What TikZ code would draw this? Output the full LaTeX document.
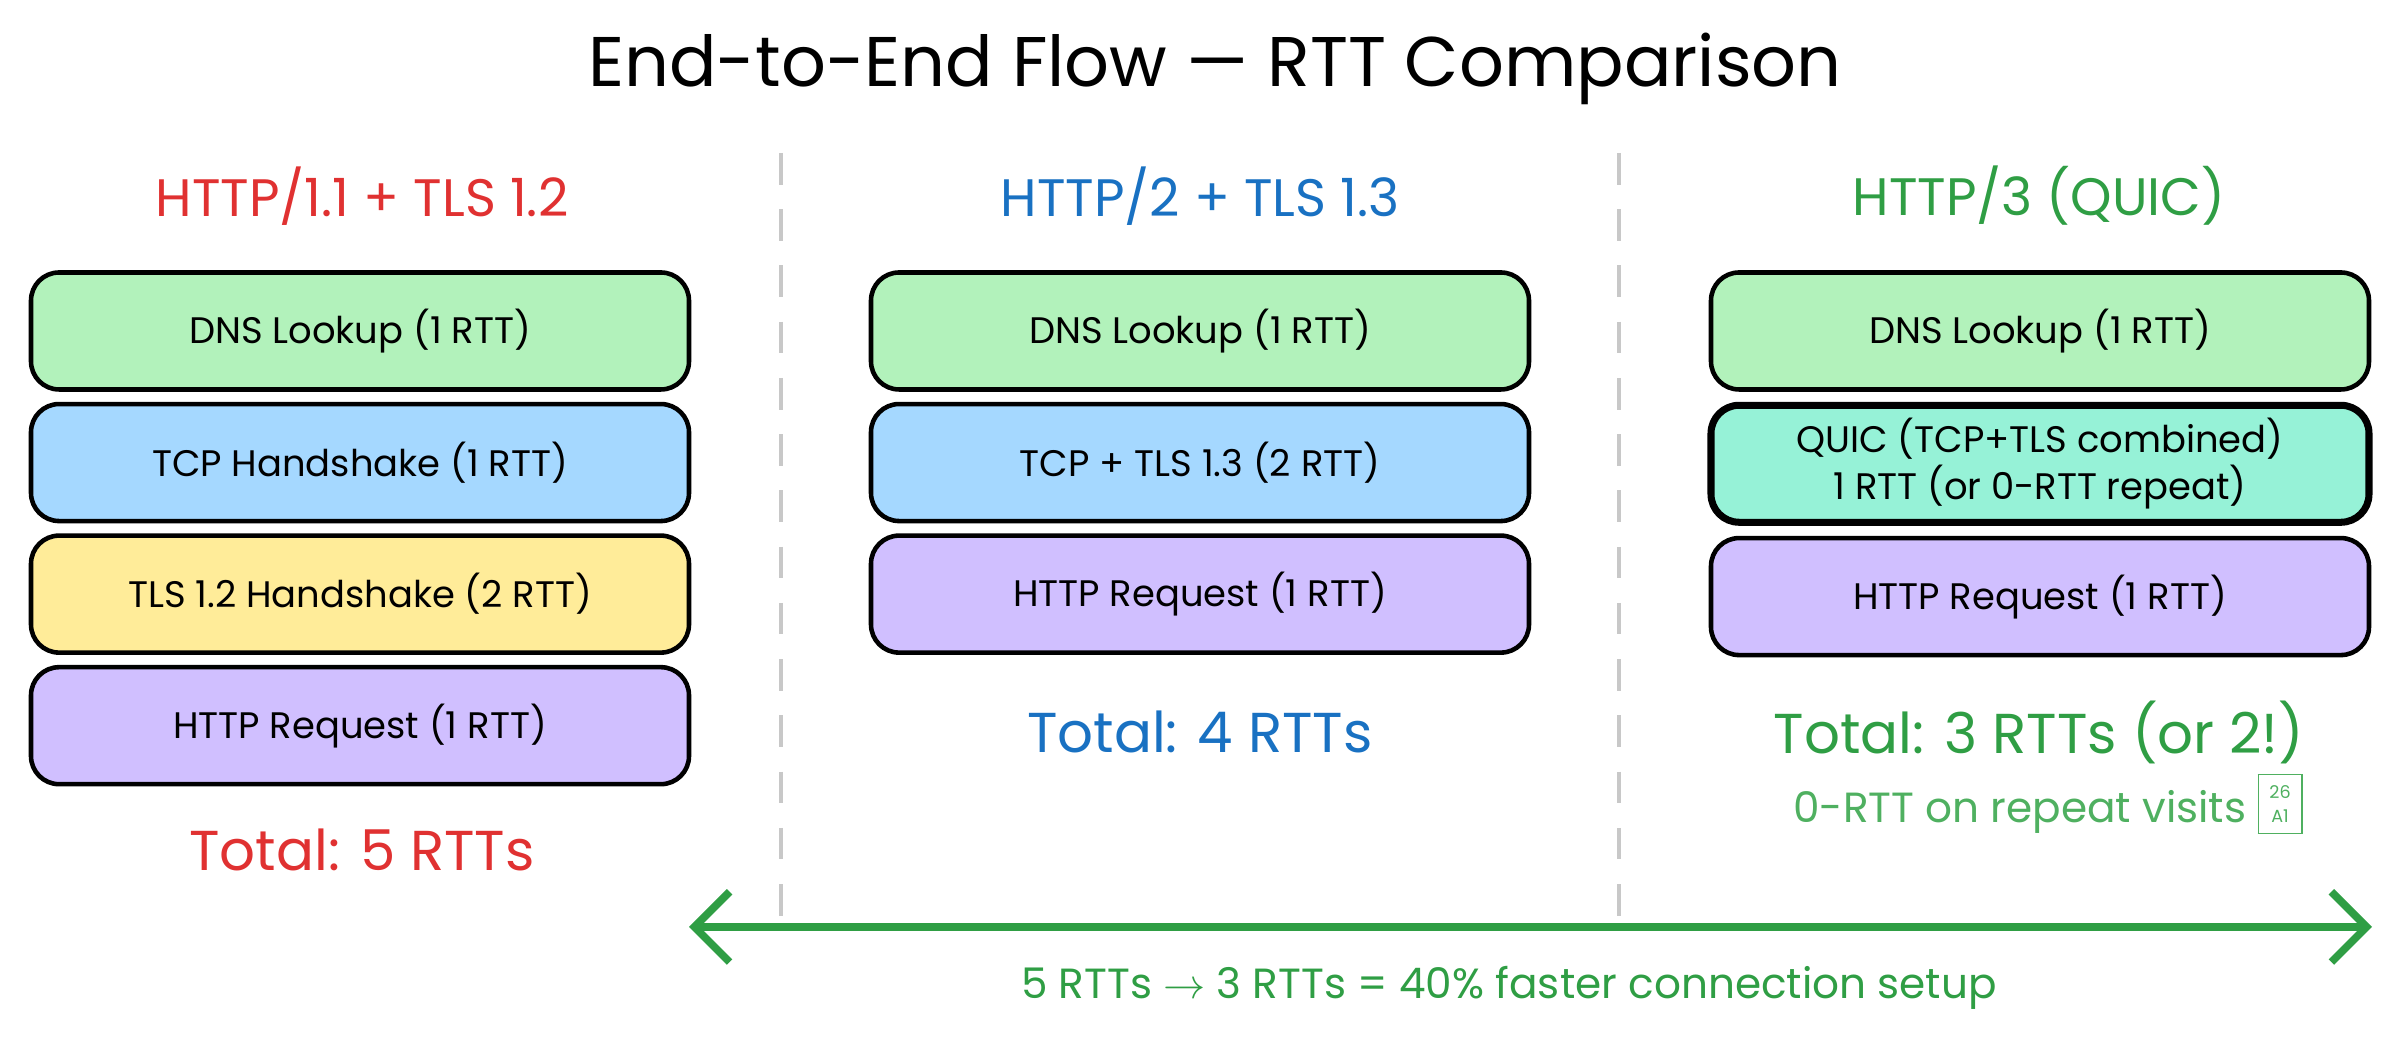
\documentclass[tikz,border=0pt]{standalone}
\usepackage{fontspec}
\setmainfont{Poppins}
\usepackage{xcolor}
\usetikzlibrary{positioning,arrows.meta}
\definecolor{cred}{HTML}{E03131}
\definecolor{cblue}{HTML}{1971C2}
\definecolor{cgreen}{HTML}{2F9E44}
\definecolor{lgreen}{HTML}{4FB060}
\definecolor{fdns}{HTML}{B2F2BB}
\definecolor{ftcp}{HTML}{A5D8FF}
\definecolor{ftls}{HTML}{FFEC99}
\definecolor{fhttp}{HTML}{D0BFFF}
\definecolor{fquic}{HTML}{96F2D7}
\definecolor{cdash}{HTML}{C8C8C8}

\begin{document}
\begin{tikzpicture}[
stage/.style={draw,line width=1.3pt,rounded corners=8pt,minimum width=6.58cm,minimum height=1.17cm,align=center,font=\fontsize{10.5}{13.5}\selectfont},
head/.style={font=\fontsize{15}{18}\selectfont},
total/.style={font=\fontsize{16}{19}\selectfont}]
\useasboundingbox (0,0) rectangle (24.03,10.49);
\node (title) at (12.15,9.8) {\fontsize{20}{24}\selectfont End-to-End Flow — RTT Comparison};
% separators
\coordinate (s1top) at (7.81,8.96);
\coordinate (s1bot) at (7.81,1.14);
\coordinate (s2top) at (16.19,8.96);
\coordinate (s2bot) at (16.19,1.14);
\draw [cdash,line width=1.2pt,dash pattern=on 9pt off 7pt] (s1top) -- (s1bot);
\draw [cdash,line width=1.2pt,dash pattern=on 9pt off 7pt] (s2top) -- (s2bot);
% HTTP/1.1
\node (h1) [head,text=cred] at (3.62,8.53) {HTTP/1.1 + TLS 1.2};
\node (h1dns) [stage,fill=fdns] at (3.6,7.18) {DNS Lookup (1 RTT)};
\node (h1tcp) [stage,fill=ftcp,below=.1cm of h1dns] {TCP Handshake (1 RTT)};
\node (h1tls) [stage,fill=ftls,below=.1cm of h1tcp] {TLS 1.2 Handshake (2 RTT)};
\node (h1req) [stage,fill=fhttp,below=.1cm of h1tls] {HTTP Request (1 RTT)};
\node (h1tot) [total,text=cred] at (3.62,1.99) {Total: 5 RTTs};
% HTTP/2
\node (h2) [head,text=cblue] at (12.0,8.53) {HTTP/2 + TLS 1.3};
\node (h2dns) [stage,fill=fdns] at (12.0,7.18) {DNS Lookup (1 RTT)};
\node (h2tcp) [stage,fill=ftcp,below=.1cm of h2dns] {TCP + TLS 1.3 (2 RTT)};
\node (h2req) [stage,fill=fhttp,below=.1cm of h2tcp] {HTTP Request (1 RTT)};
\node (h2tot) [total,text=cblue] at (12.0,3.17) {Total: 4 RTTs};
% HTTP/3
\node (h3) [head,text=cgreen] at (20.39,8.53) {HTTP/3 (QUIC)};
\node (h3dns) [stage,fill=fdns] at (20.4,7.18) {DNS Lookup (1 RTT)};
\node (h3quic) [stage,fill=fquic,line width=2pt,below=.1cm of h3dns] {QUIC (TCP+TLS combined)\\1 RTT (or 0-RTT repeat)};
\node (h3req) [stage,fill=fhttp,below=.1cm of h3quic] {HTTP Request (1 RTT)};
\node (h3tot) [total,text=cgreen] at (20.39,3.17) {Total: 3 RTTs (or 2!)};
\node (h3note) [text=lgreen,font=\fontsize{12}{14}\selectfont] at (20.48,2.45) {0-RTT on repeat visits \fbox{\tiny\shortstack{26\\A1}}};
% speed-up arrow
\coordinate (aleft) at (6.89,1.22);
\coordinate (aright) at (23.72,1.22);
\draw [cgreen,line width=2.2pt,{Straight Barb[length=10pt,width=20pt]}-{Straight Barb[length=10pt,width=20pt]}] (aleft) -- (aright);
\node (gain) [text=cgreen,font=\fontsize{12}{14}\selectfont] at (15.09,0.61) {5 RTTs \(\to\) 3 RTTs = 40\% faster connection setup};
\end{tikzpicture}
\end{document}
